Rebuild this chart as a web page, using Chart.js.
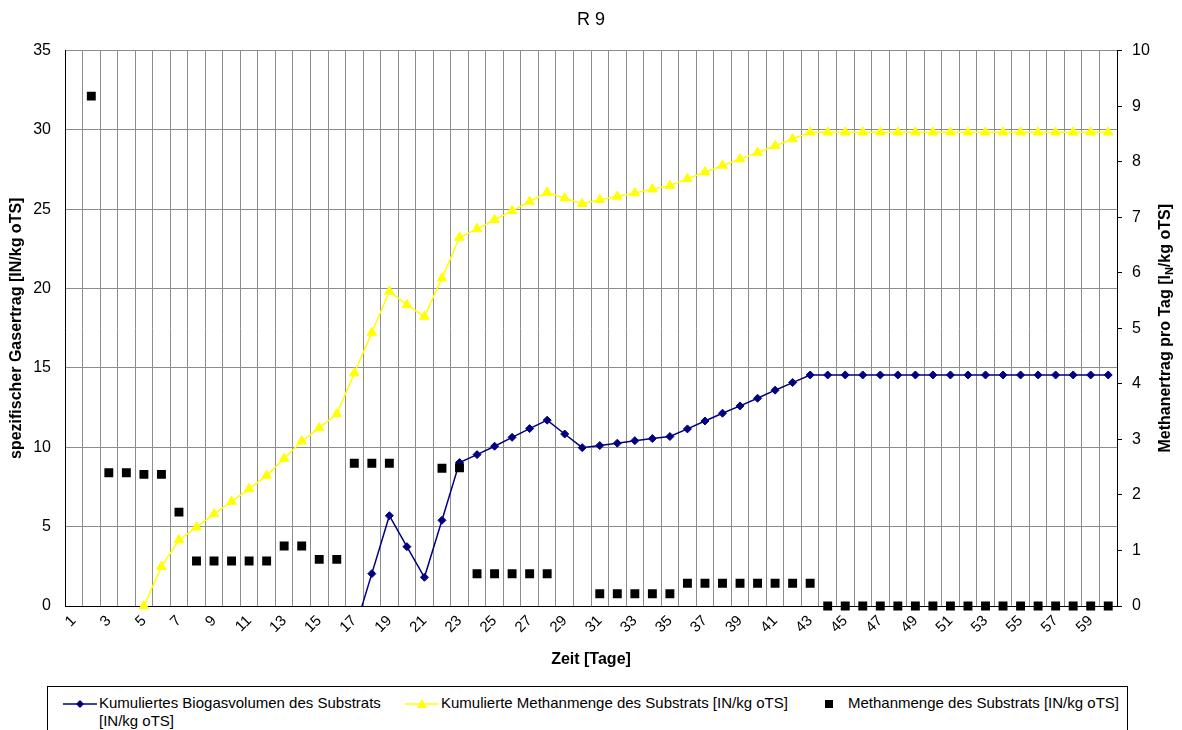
<!DOCTYPE html>
<html>
<head>
<meta charset="utf-8">
<title>R 9</title>
<script src="https://cdn.jsdelivr.net/npm/chart.js@4.4.0/dist/chart.umd.min.js"></script>
<style>
  html, body { margin: 0; padding: 0; background: #fff; }
  #wrap { position: relative; width: 1182px; height: 730px; overflow: hidden;
          font-family: "Liberation Sans", Arial, sans-serif; }
  #legend { position: absolute; left: 47px; top: 686px; width: 1081px; height: 70px;
            border: 1px solid #000; box-sizing: border-box; background: #fff; }
  .li { position: absolute; font-size: 15px; line-height: 18px; color: #000; white-space: nowrap; }
  .ic { position: absolute; }
</style>
</head>
<body>
<div id="wrap">
  <canvas id="chart"></canvas>
  <div id="legend">
    <svg class="ic" style="left:15px;top:8px" width="34" height="18">
      <line x1="0" y1="9" x2="34" y2="9" stroke="#000080" stroke-width="1.5"/>
      <polygon points="17,5 21,9 17,13 13,9" fill="#000080"/>
    </svg>
    <div class="li" style="left:51px;top:7px">Kumuliertes Biogasvolumen des Substrats<br>[IN/kg oTS]</div>
    <svg class="ic" style="left:357px;top:8px" width="34" height="18">
      <line x1="0" y1="9" x2="34" y2="9" stroke="#FFFF00" stroke-width="1.5"/>
      <polygon points="17,4 22,13 12,13" fill="#FFFF00"/>
    </svg>
    <div class="li" style="left:393px;top:7px">Kumulierte Methanmenge des Substrats [IN/kg oTS]</div>
    <svg class="ic" style="left:775px;top:8px" width="12" height="18">
      <rect x="2" y="5" width="8" height="8" fill="#000"/>
    </svg>
    <div class="li" style="left:800px;top:7px">Methanmenge des Substrats [IN/kg oTS]</div>
  </div>
</div>
<script>
// ── Data (days 1..60) ────────────────────────────────────────────────
var days = [
  '1','2','3','4','5','6','7','8','9','10','11','12','13','14','15','16','17','18','19','20',
  '21','22','23','24','25','26','27','28','29','30','31','32','33','34','35','36','37','38','39','40',
  '41','42','43','44','45','46','47','48','49','50','51','52','53','54','55','56','57','58','59','60'
];

// Kumuliertes Biogasvolumen [lN/kg oTS] (left axis)
var kumBiogas = [
  null, null, null, null, null, null, null, null, null, null,
  null, null, null, null, null, null, -1.6, 2.04, 5.69, 3.74,
  1.81, 5.40, 9.04, 9.54, 10.07, 10.63, 11.18, 11.71, 10.84, 9.98,
  10.11, 10.26, 10.42, 10.55, 10.68, 11.16, 11.66, 12.15, 12.61, 13.09,
  13.60, 14.08, 14.56, 14.56, 14.56, 14.56, 14.56, 14.56, 14.56, 14.56,
  14.56, 14.56, 14.56, 14.56, 14.56, 14.56, 14.56, 14.56, 14.56, 14.56
];

// Kumulierte Methanmenge [lN/kg oTS] (left axis)
var kumMethan = [
  null, null, null, null, 0, 2.48, 4.16, 4.96, 5.80, 6.58,
  7.38, 8.22, 9.29, 10.38, 11.22, 12.10, 14.67, 17.23, 19.82, 18.98,
  18.24, 20.66, 23.22, 23.77, 24.34, 24.90, 25.49, 26.06, 25.70, 25.35,
  25.60, 25.81, 26.02, 26.27, 26.48, 26.92, 27.34, 27.76, 28.16, 28.58,
  29.00, 29.43, 29.85, 29.85, 29.85, 29.85, 29.85, 29.85, 29.85, 29.85,
  29.85, 29.85, 29.85, 29.85, 29.85, 29.85, 29.85, 29.85, 29.85, 29.85
];

// Methanmenge pro Tag [lN/kg oTS] (right axis)
var methanTag = [
  null, 9.18, 2.40, 2.40, 2.37, 2.37, 1.69, 0.81, 0.81, 0.81,
  0.81, 0.81, 1.08, 1.08, 0.84, 0.84, 2.57, 2.57, 2.57, null,
  null, 2.48, 2.49, 0.58, 0.58, 0.58, 0.58, 0.58, null, null,
  0.22, 0.22, 0.22, 0.22, 0.22, 0.41, 0.41, 0.41, 0.41, 0.41,
  0.41, 0.41, 0.41, 0, 0, 0, 0, 0, 0, 0,
  0, 0, 0, 0, 0, 0, 0, 0, 0, 0
];

var leftTicks = [0, 5, 10, 15, 20, 25, 30, 35];
var rightTicks = [0, 1, 2, 3, 4, 5, 6, 7, 8, 9, 10];

var FONT = '"Liberation Sans", Arial, sans-serif';
var GRID = '#8c8c8c';

// ── Right axis title with subscript N, reading bottom to top ─────────
var rightTitlePlugin = {
  id: 'rightTitle',
  afterDraw: function (chart) {
    var ctx = chart.ctx;
    var area = chart.chartArea;
    var big = 'bold 16px ' + FONT;
    var small = 'bold 11px ' + FONT;
    var parts = [['Methanertrag pro Tag [l', big, 0], ['N', small, 4], ['/kg oTS]', big, 0]];
    ctx.save();
    var total = 0;
    parts.forEach(function (p) { ctx.font = p[1]; total += ctx.measureText(p[0]).width; });
    ctx.translate(chart.width - 16, (area.top + area.bottom) / 2);
    ctx.rotate(-Math.PI / 2);
    ctx.fillStyle = '#000';
    ctx.textBaseline = 'middle';
    ctx.textAlign = 'left';
    var x = -total / 2;
    parts.forEach(function (p) {
      ctx.font = p[1];
      ctx.fillText(p[0], x, p[2]);
      x += ctx.measureText(p[0]).width;
    });
    ctx.restore();
  }
};

Chart.defaults.font.family = FONT;
Chart.defaults.color = '#000';

new Chart(document.getElementById('chart'), {
  type: 'line',
  data: {
    labels: days,
    datasets: [{
      label: 'Kumuliertes Biogasvolumen des Substrats [IN/kg oTS]',
      data: kumBiogas,
      yAxisID: 'y',
      borderColor: '#000080',
      backgroundColor: '#000080',
      borderWidth: 1.5,
      pointStyle: 'rectRot',
      pointRadius: 4,
      pointBorderWidth: 1,
      tension: 0,
      order: 2,
      clip: { left: 8, right: 8, top: 8, bottom: 0 }
    }, {
      label: 'Kumulierte Methanmenge des Substrats [IN/kg oTS]',
      data: kumMethan,
      yAxisID: 'y',
      borderColor: '#FFFF00',
      backgroundColor: '#FFFF00',
      borderWidth: 1.5,
      pointStyle: 'triangle',
      pointRadius: 5.5,
      pointBorderWidth: 1,
      tension: 0,
      order: 1,
      clip: 8
    }, {
      label: 'Methanmenge des Substrats [IN/kg oTS]',
      data: methanTag,
      yAxisID: 'y1',
      showLine: false,
      borderColor: '#000',
      backgroundColor: '#000',
      pointStyle: 'rect',
      pointRadius: 6.3,
      pointBorderWidth: 0,
      order: 0,
      clip: 10
    }]
  },
  options: {
    responsive: true,
    maintainAspectRatio: false,
    devicePixelRatio: 1,
    animation: false,
    layout: { padding: { left: 0, right: 0, top: 0, bottom: 61 } },
    plugins: {
      legend: { display: false },
      tooltip: { enabled: false },
      title: {
        display: true,
        text: 'R 9',
        color: '#000',
        font: { size: 18, weight: 'normal' },
        padding: { top: 9, bottom: 20 }
      }
    },
    scales: {
      x: {
        type: 'category',
        offset: true,
        grid: { offset: true, color: GRID, lineWidth: 1, drawTicks: false },
        border: { color: '#000', width: 1 },
        ticks: {
          autoSkip: false,
          minRotation: 45,
          maxRotation: 45,
          padding: 6,
          font: { size: 15 },
          color: '#000',
          callback: function (value, index) { return index % 2 === 0 ? days[index] : ''; }
        },
        title: {
          display: true,
          text: 'Zeit [Tage]',
          color: '#000',
          font: { size: 16, weight: 'bold' },
          padding: { top: 0, bottom: 0 }
        },
        afterFit: function (scale) { scale.height = 63; }
      },
      y: {
        position: 'left',
        min: leftTicks[0],
        max: leftTicks[leftTicks.length - 1],
        afterBuildTicks: function (scale) {
          scale.ticks = leftTicks.map(function (v) { return { value: v }; });
        },
        grid: { color: GRID, lineWidth: 1, drawTicks: false },
        border: { color: '#000', width: 1 },
        ticks: { padding: 14, font: { size: 16 }, color: '#000' },
        title: {
          display: true,
          text: 'spezifischer Gasertrag [IN/kg oTS]',
          color: '#000',
          font: { size: 16, weight: 'bold' },
          padding: { top: 7, bottom: 0 }
        },
        afterFit: function (scale) { scale.width = 65; }
      },
      y1: {
        position: 'right',
        min: rightTicks[0],
        max: rightTicks[rightTicks.length - 1],
        afterBuildTicks: function (scale) {
          scale.ticks = rightTicks.map(function (v) { return { value: v }; });
        },
        grid: { drawOnChartArea: false, drawTicks: true, tickLength: 5, color: '#000' },
        border: { color: '#000', width: 1 },
        ticks: { padding: 10, font: { size: 16 }, color: '#000' },
        afterFit: function (scale) { scale.width = 65; }
      }
    }
  },
  plugins: [rightTitlePlugin]
});
</script>
</body>
</html>
